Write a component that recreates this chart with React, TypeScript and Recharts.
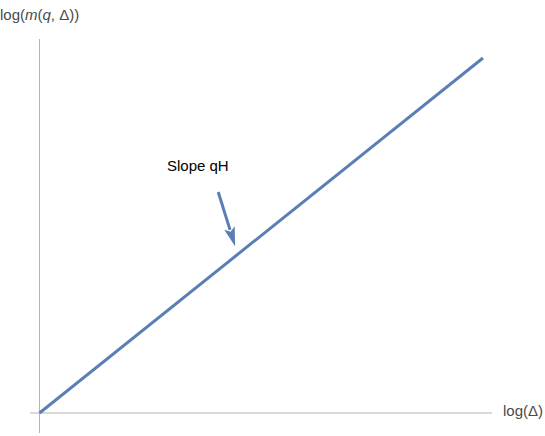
import React from "react";
import { ComposedChart, Line, XAxis, YAxis, ReferenceLine, ReferenceDot, Customized } from "recharts";

// data (arbitrary log units)
const lineX = [0, 10];
const lineY = [0, 8];
const arrowStart = { x: 4.03, y: 4.98 };
const arrowEnd = { x: 4.41, y: 3.76 };
const annotation = { x: 3.57, y: 5.45, text: "Slope qH" };
const xLabel = "log(Δ)";

const lineData = lineX.map((x, i) => ({ x, y: lineY[i] }));

const BLUE = "#5b7fb5";
const AXIS = "#b4b4b4";
const FONT = "'Liberation Sans', Arial, sans-serif";

const ArrowShape = (props: any) => {
  const { x1, y1, x2, y2 } = props;
  const dx = x2 - x1;
  const dy = y2 - y1;
  const len = Math.sqrt(dx * dx + dy * dy);
  const ux = dx / len;
  const uy = dy / len;
  const headLen = 19;
  const headW = 5.5;
  const bx = x2 - ux * headLen;
  const by = y2 - uy * headLen;
  const px = -uy;
  const py = ux;
  return (
    <g>
      <line x1={x1} y1={y1} x2={bx + ux * 2} y2={by + uy * 2} stroke={BLUE} strokeWidth={3} />
      <polygon
        points={`${x2},${y2} ${bx + px * headW},${by + py * headW} ${bx + ux * 4},${by + uy * 4} ${bx - px * headW},${by - py * headW}`}
        fill={BLUE}
      />
    </g>
  );
};

const LabelDot = (props: any) => {
  const { cx, cy } = props;
  return (
    <text x={cx} y={cy} textAnchor="middle" fontFamily={FONT} fontSize={15} fill="#000">
      {annotation.text}
    </text>
  );
};

const AxisLabels = () => (
  <g>
    <text x={0} y={20} fontFamily={FONT} fontSize={15} fill="#4a4a4a">
      log(<tspan fontStyle="italic">m</tspan>(<tspan fontStyle="italic">q</tspan>, Δ))
    </text>
    <text x={503} y={416} fontFamily={FONT} fontSize={15} fill="#4a4a4a">
      {xLabel}
    </text>
  </g>
);

export default function App() {
  return (
    <div style={{ position: "fixed", left: 0, top: 0, background: "#fff" }}>
      <ComposedChart
        width={545}
        height={436}
        data={lineData}
        margin={{ top: 39, right: 53, bottom: 3, left: 30 }}
      >
        <XAxis type="number" dataKey="x" domain={[-0.2142, 10.203]} hide allowDataOverflow />
        <YAxis type="number" domain={[-0.4507, 8.428]} hide allowDataOverflow />
        <ReferenceLine x={0} stroke={AXIS} strokeWidth={1} />
        <ReferenceLine y={0} stroke={AXIS} strokeWidth={1} />
        <Line
          dataKey="y"
          stroke={BLUE}
          strokeWidth={3}
          dot={false}
          isAnimationActive={false}
        />
        <ReferenceLine
          segment={[arrowStart, arrowEnd]}
          shape={<ArrowShape />}
          ifOverflow="visible"
        />
        <ReferenceDot x={annotation.x} y={annotation.y} r={0} shape={<LabelDot />} ifOverflow="visible" />
        <Customized component={AxisLabels} />
      </ComposedChart>
    </div>
  );
}
